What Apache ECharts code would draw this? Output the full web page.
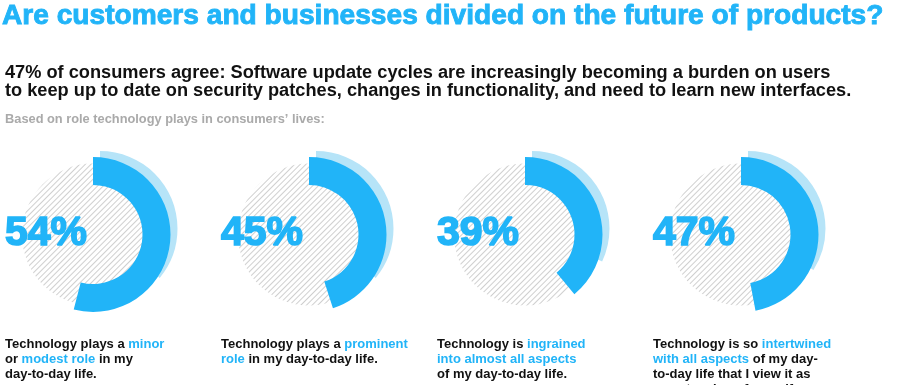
<!DOCTYPE html>
<html><head><meta charset="utf-8">
<script src="https://cdn.jsdelivr.net/npm/echarts@6/dist/echarts.min.js"></script>
<style>html,body{margin:0;padding:0;background:#fff}#c{width:900px;height:385px}</style>
</head><body><div id="c"></div>
<script>
const titleText = 'Are customers and businesses divided on the future of products?';
const subtitleLines = [
  '47% of consumers agree: Software update cycles are increasingly becoming a burden on users',
  'to keep up to date on security patches, changes in functionality, and need to learn new interfaces.'
];
const noteText = 'Based on role technology plays in consumers\u2019 lives:';
const values = [54, 45, 39, 47];
const shadowValues = [36, 36, 32, 34];
const captions = [
  'Technology plays a {b|minor}\nor {b|modest role} in my\nday-to-day life.',
  'Technology plays a {b|prominent}\n{b|role} in my day-to-day life.',
  'Technology is {b|ingrained}\n{b|into almost all aspects}\nof my day-to-day life.',
  'Technology is so {b|intertwined}\n{b|with all aspects} of my day-\nto-day life that I view it as\nan extension of myself.'
];

const BLUE = '#21b4f8';
const LIGHT = '#b6e4f8';
const ctx = document.createElement('canvas').getContext('2d');
function textW(t, font) { ctx.font = font; return ctx.measureText(t).width; }
const hasNarrow = textW('abcdefghijklmnopqrstuvwxyz', '100px "Liberation Sans Narrow", monospace') !== textW('abcdefghijklmnopqrstuvwxyz', '100px monospace');
const FONT = '"Liberation Sans", Arial, sans-serif';
const TFONT = hasNarrow ? '"Liberation Sans Narrow", "Liberation Sans", sans-serif' : FONT;
function fit(t, family, target, maxSize) {
  const w = textW(t, 'bold 100px ' + family);
  return Math.min(maxSize, target * 100 / w);
}
const titleSize = fit(titleText, TFONT, 882, 30);
const subSize = fit(subtitleLines[0], FONT, 826, 19);
const noteSize = fit(noteText, FONT, 320, 13);

const cy = 234.5;
const cxs = values.map((v, i) => 93 + i * 216);
const rIn = 49.5, rOut = 77.5, rHatch = 71;

const series = [];
const titles = [
  { text: titleText, left: 2, top: 28 - titleSize * 0.93 - 2, padding: 0,
    textStyle: { fontFamily: TFONT, fontWeight: 'bold', fontSize: titleSize, lineHeight: titleSize + 4, color: BLUE, textBorderColor: BLUE, textBorderWidth: 0.9 } },
  { text: subtitleLines.join('\n'), left: 5, top: 64, padding: 0,
    textStyle: { fontFamily: FONT, fontWeight: 'bold', fontSize: subSize, lineHeight: 18, color: '#111' } },
  { text: noteText, left: 5, top: 111.5, padding: 0,
    textStyle: { fontFamily: FONT, fontWeight: 'bold', fontSize: noteSize, lineHeight: 15, color: '#aaa' } }
];

values.forEach((v, i) => {
  const cx = cxs[i];
  series.push({
    type: 'pie', silent: true, center: [cx, cy], radius: [0, rHatch], label: { show: false },
    labelLine: { show: false }, animation: false,
    data: [{ value: 1, itemStyle: { color: '#fff', decal: { symbol: 'rect', symbolSize: 1, dashArrayX: [1, 0], dashArrayY: [1, 3], rotation: -Math.PI / 4, color: '#cfcfcf' } } }]
  });
  series.push({
    type: 'pie', silent: true, center: [cx + 7, cy - 6], radius: [rIn, rOut], startAngle: 90, clockwise: true,
    label: { show: false }, labelLine: { show: false }, animation: false,
    data: [{ value: shadowValues[i], itemStyle: { color: LIGHT } }, { value: 100 - shadowValues[i], itemStyle: { color: 'rgba(0,0,0,0)' } }]
  });
  series.push({
    type: 'pie', silent: true, center: [cx, cy], radius: [rIn, rOut], startAngle: 90, clockwise: true,
    label: { show: false }, labelLine: { show: false }, animation: false,
    data: [{ value: v, itemStyle: { color: BLUE } }, { value: 100 - v, itemStyle: { color: 'rgba(0,0,0,0)' } }]
  });
  titles.push({ text: v + '%', left: cx - 88, top: 211, padding: 0,
    textStyle: { fontFamily: FONT, fontWeight: 'bold', fontSize: 41, lineHeight: 46, color: BLUE, textBorderColor: BLUE, textBorderWidth: 1.6 } });
  titles.push({ text: captions[i], left: cx - 88, top: 337, padding: 0,
    textStyle: { fontFamily: FONT, fontWeight: 'bold', fontSize: 13, lineHeight: 15, color: '#111',
      rich: { b: { fontFamily: FONT, fontWeight: 'bold', fontSize: 13, lineHeight: 15, color: BLUE } } } });
});

const chart = echarts.init(document.getElementById('c'), null, { renderer: 'canvas' });
chart.setOption({ backgroundColor: '#fff', animation: false, title: titles, series: series });
</script></body></html>
